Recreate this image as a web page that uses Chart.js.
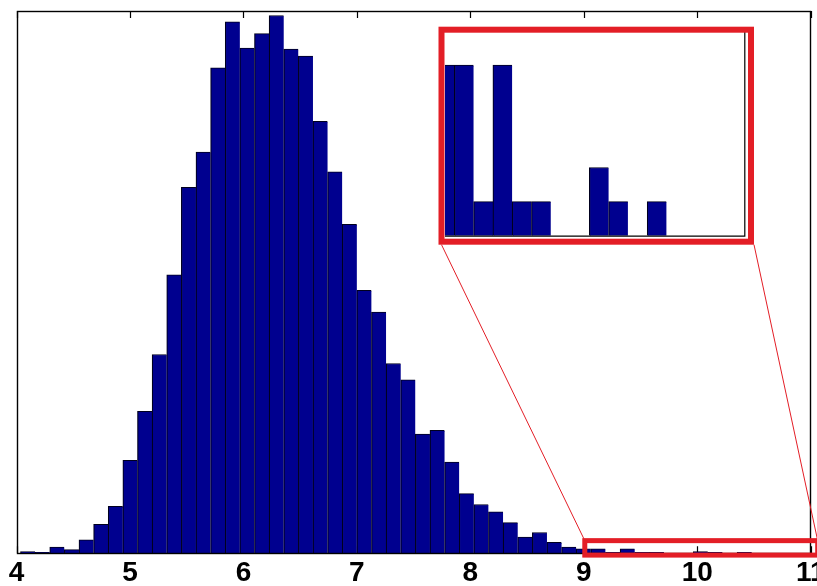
<!DOCTYPE html>
<html>
<head>
<meta charset="utf-8">
<script src="https://cdn.jsdelivr.net/npm/chart.js@4.4.1/dist/chart.umd.min.js"></script>
<style>
  html, body { margin: 0; padding: 0; background: #fff; }
  #wrap { position: relative; width: 817px; height: 586px; overflow: hidden; }
  #main { position: absolute; left: 0; top: 0; }
  #inset { position: absolute; left: 430px; top: 18px; }
</style>
</head>
<body>
<div id="wrap">
  <canvas id="main" width="817" height="586"></canvas>
  <canvas id="inset" width="335" height="235"></canvas>
</div>
<script>
// Histogram: 50 equal-width bins (centres) and their counts
const binCenters = [
  4.0995, 4.2284, 4.3573, 4.4862, 4.6151, 4.7440, 4.8729, 5.0018, 5.1307, 5.2596,
  5.3885, 5.5174, 5.6463, 5.7752, 5.9041, 6.0330, 6.1619, 6.2908, 6.4197, 6.5486,
  6.6775, 6.8064, 6.9353, 7.0642, 7.1931, 7.3220, 7.4509, 7.5798, 7.7087, 7.8376,
  7.9665, 8.0954, 8.2243, 8.3532, 8.4821, 8.6110, 8.7399, 8.8688, 8.9977, 9.1266,
  9.2555, 9.3844, 9.5133, 9.6422, 9.7711, 9.9000, 10.0289, 10.1578, 10.2867, 10.4156
];
const counts = [
  2, 1, 7, 4, 15, 32, 52, 103, 157, 220,
  308, 405, 444, 537, 588, 559, 575, 595, 558, 550,
  478, 422, 364, 291, 267, 210, 192, 132, 136, 101,
  66, 54, 46, 34, 18, 23, 12, 7, 5, 5,
  1, 5, 1, 1, 0, 0, 2, 1, 0, 1
];
const xTickValues = [4, 5, 6, 7, 8, 9, 10, 11];
const xRange = [4, 11];
const countMax = 600;

// Magnified tail window
const zoomX = [9, 11];
const zoomCountMax = 6;

const BAR_FILL = 'rgb(0,0,143)';
const RED = '#e31e26';

const histData = binCenters.map((c, i) => ({ x: c, y: counts[i] }));

function histDataset() {
  return {
    data: histData,
    backgroundColor: BAR_FILL,
    borderColor: 'rgb(0,0,30)',
    borderWidth: { top: 1, left: 1.2, right: 0, bottom: 0 },
    borderSkipped: false,
    barPercentage: 1,
    categoryPercentage: 1
  };
}

// ---- inset: tail of the distribution ----
const insetDeco = {
  id: 'insetDeco',
  afterDatasetsDraw(chart) {
    const { ctx, chartArea: a } = chart;
    ctx.save();
    ctx.strokeStyle = '#000';
    ctx.lineWidth = 1.2;
    ctx.beginPath();
    ctx.moveTo(a.left, a.bottom + 0.5);
    ctx.lineTo(a.right + 0.5, a.bottom + 0.5);
    ctx.lineTo(a.right + 0.5, a.top);
    ctx.stroke();
    ctx.restore();
  },
  afterDraw(chart) {
    const { ctx, chartArea: a } = chart;
    const r = insetFrame(a);
    ctx.save();
    ctx.strokeStyle = RED;
    ctx.lineWidth = 6;
    ctx.strokeRect(r.left, r.top, r.right - r.left, r.bottom - r.top);
    ctx.restore();
  }
};

function insetFrame(a) {
  return { left: a.left - 3.5, top: a.top - 1.3, right: a.right + 6.7, bottom: a.bottom + 6 };
}

const insetCanvas = document.getElementById('inset');
const insetChart = new Chart(insetCanvas, {
  type: 'bar',
  data: { datasets: [histDataset()] },
  options: {
    responsive: false,
    animation: false,
    devicePixelRatio: 1,
    events: [],
    layout: { padding: { left: 15, top: 13, right: 20.7, bottom: 17.3 } },
    plugins: { legend: { display: false }, tooltip: { enabled: false } },
    scales: {
      x: { type: 'linear', min: zoomX[0], max: zoomX[1], offset: false, display: false, grid: { offset: false } },
      y: { type: 'linear', min: 0, max: zoomCountMax, display: false }
    }
  },
  plugins: [insetDeco]
});

// ---- main histogram ----
const mainDeco = {
  id: 'mainDeco',
  beforeDatasetsDraw(chart) {
    const { ctx, chartArea: a, scales: { x } } = chart;
    ctx.save();
    ctx.strokeStyle = '#000';
    ctx.lineWidth = 1.2;
    ctx.beginPath();
    x.ticks.forEach(t => {
      const px = Math.round(x.getPixelForValue(t.value)) + 0.5;
      ctx.moveTo(px, a.top); ctx.lineTo(px, a.top + 7);
      ctx.moveTo(px, a.bottom); ctx.lineTo(px, a.bottom - 7);
    });
    ctx.stroke();
    ctx.restore();
  },
  afterDatasetsDraw(chart) {
    const { ctx, chartArea: a } = chart;
    const l = Math.round(a.left) + 0.5, t = Math.round(a.top) + 0.5;
    const r = Math.floor(a.right) + 0.5, b = Math.floor(a.bottom) + 0.5;
    ctx.save();
    ctx.strokeStyle = '#000';
    ctx.lineWidth = 1.4;
    ctx.strokeRect(l, t, r - l, b - t);
    ctx.restore();
  },
  afterDraw(chart) {
    const { ctx, scales: { x, y } } = chart;
    // box marking the magnified region
    const bl = x.getPixelForValue(zoomX[0]) + 1;
    const br = x.getPixelForValue(zoomX[1]) + 7;
    const bt = y.getPixelForValue(14);
    const bb = y.getPixelForValue(-2);
    ctx.save();
    ctx.strokeStyle = RED;
    ctx.lineWidth = 5;
    ctx.strokeRect(bl, bt, br - bl, bb - bt);
    // connectors to the inset frame
    const f = insetFrame(insetChart.chartArea);
    const ox = insetCanvas.offsetLeft, oy = insetCanvas.offsetTop;
    ctx.lineWidth = 1;
    ctx.beginPath();
    ctx.moveTo(ox + f.left, oy + f.bottom + 3);
    ctx.lineTo(bl, bt);
    ctx.moveTo(ox + f.right + 3, oy + f.bottom + 3);
    ctx.lineTo(br, bt);
    ctx.stroke();
    ctx.restore();
  }
};

new Chart(document.getElementById('main'), {
  type: 'bar',
  data: { datasets: [histDataset()] },
  options: {
    responsive: false,
    animation: false,
    devicePixelRatio: 1,
    events: [],
    layout: { padding: { left: 16.5, top: 11, right: 6.3, bottom: 0 } },
    plugins: { legend: { display: false }, tooltip: { enabled: false } },
    scales: {
      x: {
        type: 'linear',
        min: xRange[0],
        max: xRange[1],
        offset: false,
        grid: { display: false, drawTicks: false, offset: false },
        border: { display: false },
        afterBuildTicks: s => { s.ticks = xTickValues.map(v => ({ value: v })); },
        afterFit: s => { s.height = 32.7; s.paddingLeft = 0; s.paddingRight = 0; },
        ticks: {
          autoSkip: false,
          maxRotation: 0,
          padding: 3,
          color: '#000',
          font: { family: '"Liberation Sans", Arial, Helvetica, sans-serif', size: 28, weight: 'bold', lineHeight: 1.2 },
          callback: v => String(v)
        }
      },
      y: { type: 'linear', min: 0, max: countMax, display: false }
    }
  },
  plugins: [mainDeco]
});
</script>
</body>
</html>
